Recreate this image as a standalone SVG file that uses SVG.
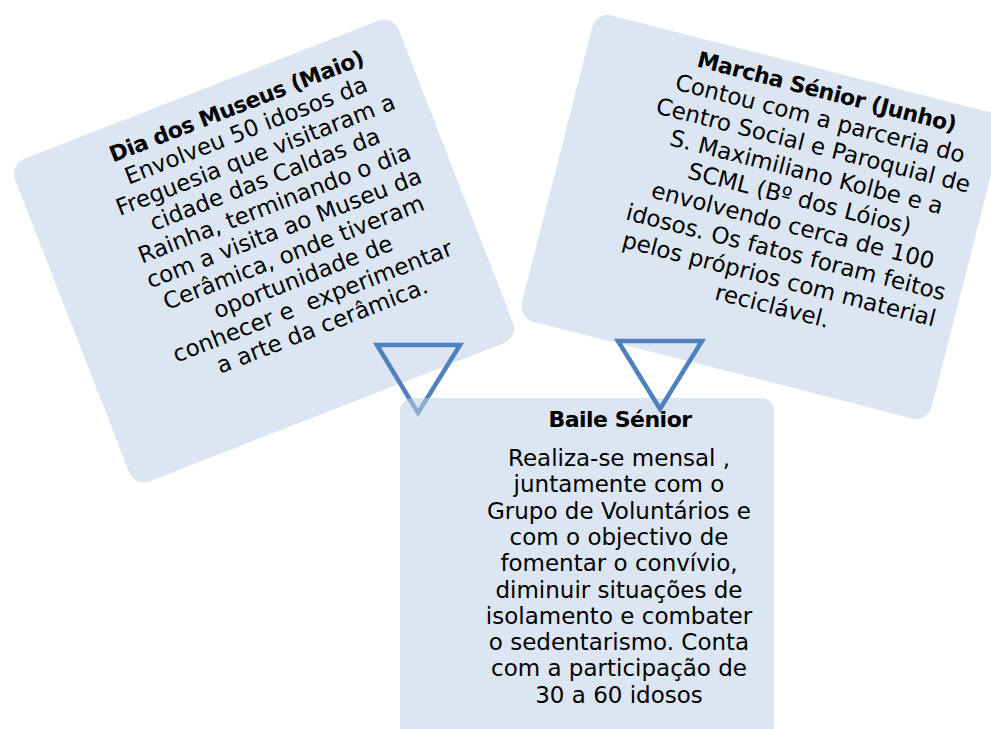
<svg xmlns="http://www.w3.org/2000/svg" width="991" height="729" viewBox="0 0 991 729">
<style>
.box{fill:#dce6f2}
.boxT{fill:#bfd1e7;fill-opacity:0.545}
.tri{fill:none;stroke:#4f81bd;stroke-width:4.5;stroke-linejoin:miter}
text{font-family:"DejaVu Sans","Liberation Sans",sans-serif;font-size:23px;fill:#000;text-anchor:middle}
.t{font-weight:bold;font-size:22px;letter-spacing:-0.5px}
</style>
<rect width="991" height="729" fill="#fff"/>
<g id="dia-museus" transform="translate(264,251) rotate(-21.3)">
<rect class="box" x="-206" y="-173" width="412" height="346" rx="16"/>
<text x="27" y="-137.3" class="t">Dia dos Museus (Maio)</text>
<text x="27" y="-111.1">Envolveu 50 idosos da</text>
<text x="27" y="-84.9">Freguesia que visitaram a</text>
<text x="27" y="-58.7">cidade das Caldas da</text>
<text x="27" y="-32.5">Rainha, terminando o dia</text>
<text x="27" y="-6.3">com a visita ao Museu da</text>
<text x="27" y="19.9">Cerâmica, onde tiveram</text>
<text x="27" y="46.1">oportunidade de</text>
<text x="27" y="72.3" xml:space="preserve">conhecer e  experimentar</text>
<text x="27" y="98.5">a arte da cerâmica.</text>
</g>
<g id="marcha-senior" transform="translate(762,217) rotate(14.3)">
<rect class="box" x="-211.5" y="-158" width="423" height="316" rx="16"/>
<text x="32" y="-129.7" class="t">Marcha Sénior (Junho)</text>
<text x="32" y="-102">Contou com a parceria do</text>
<text x="32" y="-74.4">Centro Social e Paroquial de</text>
<text x="32" y="-46.7">S. Maximiliano Kolbe e a</text>
<text x="32" y="-19.1">SCML (Bº dos Lóios)</text>
<text x="32" y="8.6">envolvendo cerca de 100</text>
<text x="32" y="36.2">idosos. Os fatos foram feitos</text>
<text x="32" y="63.9">pelos próprios com material</text>
<text x="32" y="91.5">reciclável.</text>
</g>
<g id="connectors">
<polygon id="tri-left" class="tri" points="377,345 460,345 418,413"/>
</g>
<g id="baile-senior">
<rect class="boxT" x="400" y="398" width="374" height="360" rx="13"/>
<text x="620" y="427" class="t">Baile Sénior</text>
<text x="619" y="466" xml:space="preserve">Realiza-se mensal ,</text>
<text x="619" y="492.3">juntamente com o</text>
<text x="619" y="518.6">Grupo de Voluntários e</text>
<text x="619" y="544.9">com o objectivo de</text>
<text x="619" y="571.2">fomentar o convívio,</text>
<text x="619" y="597.5">diminuir situações de</text>
<text x="619" y="623.8">isolamento e combater</text>
<text x="619" y="650.1">o sedentarismo. Conta</text>
<text x="619" y="676.4">com a participação de</text>
<text x="619" y="702.7">30 a 60 idosos</text>
</g>
<g id="connectors-top">
<polygon id="tri-right" class="tri" points="618,341 702,341 660,409"/>
</g>
</svg>
